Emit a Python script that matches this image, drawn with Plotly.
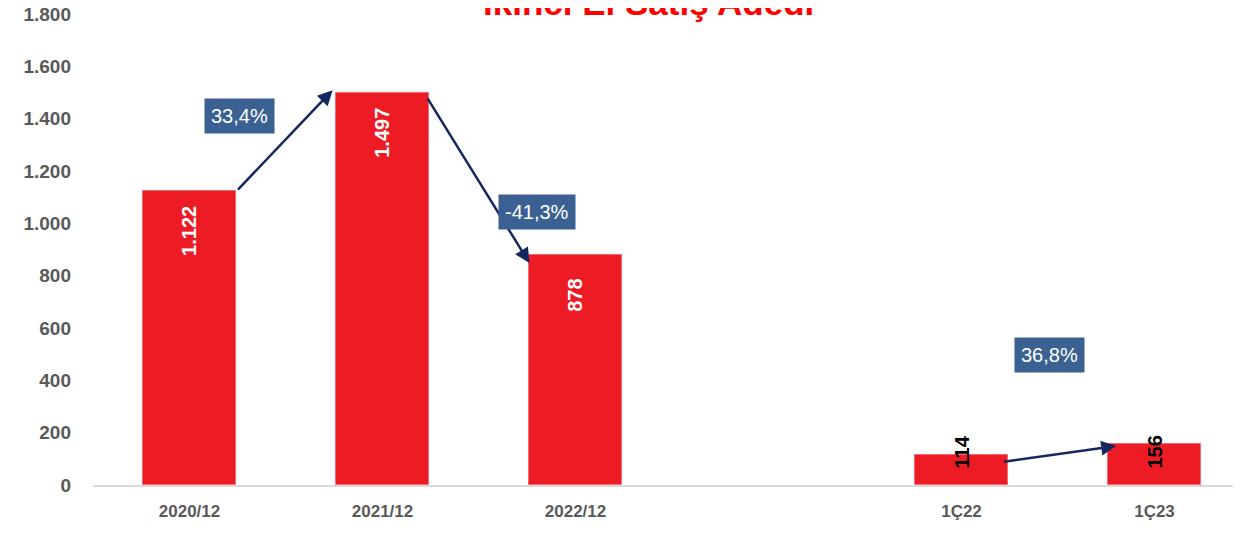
import plotly.graph_objects as go

# ---- data ----
categories = ["2020/12", "2021/12", "2022/12", "", "1Ç22", "1Ç23"]
sales = [1122, 1497, 878, None, 114, 156]
y_ticks = [0, 200, 400, 600, 800, 1000, 1200, 1400, 1600, 1800]
# pairs of bars compared by the percentage-change arrows
change_pairs = [(0, 1), (1, 2), (4, 5)]
title_text = "İkinci El Satış Adedi"

# ---- styling / placement (not data) ----
BAR_COLOR = "#ED1C24"
BOX_COLOR = "#3B6192"
ARROW_COLOR = "#14285F"
TICK_COLOR = "#595959"
FONT = "Liberation Sans, Arial"
BAR_W = 0.477
# arrow endpoint offsets (x offset from bar edge, y offset from bar value)
arrow_offsets = [((0.005, 1), (-0.02, 12)), ((-0.01, -14), (0.0, -30)), ((-0.027, -26), (0.04, -7))]
# percent box placement (x, y in data units)
box_pos = [(0.259, 1410), (1.803, 1043), (4.456, 497)]

# the page body adds an 8px offset; margins compensate for it
PAGE_OFF = 8
PLOT_L, PLOT_T, PLOT_B, PLOT_R = 93, 14, 485, 1241
W, H = 1241, 533


def fmt_thousands(v):
    return f"{v:,}".replace(",", ".")


x_idx = list(range(len(categories)))

fig = go.Figure()
fig.add_trace(go.Bar(
    x=x_idx, y=sales, width=BAR_W,
    marker=dict(color=BAR_COLOR, line=dict(color="#F26B72", width=1)),
    hoverinfo="skip",
))

annotations = []
# value labels
for i, v in enumerate(sales):
    if v is None:
        continue
    if v > 400:
        annotations.append(dict(
            x=i, y=v, xref="x", yref="y", text=fmt_thousands(v), showarrow=False,
            textangle=-90, yanchor="middle", xanchor="center", yshift=-40,
            font=dict(family=FONT, size=20, color="white", weight="bold"),
        ))
    else:
        annotations.append(dict(
            x=i, y=0, xref="x", yref="y", text=fmt_thousands(v), showarrow=False,
            textangle=-90, yanchor="middle", xanchor="center", yshift=33,
            font=dict(family=FONT, size=20, color="black", weight="bold"),
        ))

# arrows + percent boxes
for (a, b), (toff, hoff), (bx, by) in zip(change_pairs, arrow_offsets, box_pos):
    va, vb = sales[a], sales[b]
    tail_x = a + BAR_W / 2 + toff[0]
    tail_y = va + toff[1]
    head_x = b - BAR_W / 2 + hoff[0]
    head_y = vb + hoff[1]
    annotations.append(dict(
        x=head_x, y=head_y, ax=tail_x, ay=tail_y,
        xref="x", yref="y", axref="x", ayref="y",
        text="", showarrow=True, arrowhead=2, arrowsize=1.2,
        arrowwidth=2.5, arrowcolor=ARROW_COLOR,
    ))
    pct = round((vb / va - 1) * 100, 1)
    annotations.append(dict(
        x=bx, y=by, xref="x", yref="y", showarrow=False,
        text=f"{pct:.1f}%".replace(".", ","),
        bgcolor=BOX_COLOR, borderpad=6,
        font=dict(family=FONT, size=20, color="white"),
    ))

# title (partly cut off at the top)
annotations.append(dict(
    x=(648 - PLOT_L) / (PLOT_R - PLOT_L), xref="paper", y=1, yref="paper",
    text=title_text, showarrow=False,
    xanchor="center", yanchor="bottom", yshift=-10,
    font=dict(family=FONT, size=35, color="#FF0000", weight="bold"),
))

fig.update_layout(
    width=W, height=H,
    margin=dict(l=PLOT_L - PAGE_OFF, r=W - (PLOT_R - PAGE_OFF),
                t=PLOT_T - PAGE_OFF, b=H - (PLOT_B - PAGE_OFF), autoexpand=False),
    paper_bgcolor="white", plot_bgcolor="white",
    showlegend=False,
    separators=",.",
    annotations=annotations,
    bargap=0,
)
fig.update_xaxes(
    range=[-0.5, -0.5 + (PLOT_R - PLOT_L) / 193],
    tickmode="array", tickvals=x_idx, ticktext=categories,
    showline=True, linecolor="#D9D9D9", linewidth=2,
    showgrid=False, zeroline=False, ticks="", automargin=False,
    tickfont=dict(family=FONT, size=17, color=TICK_COLOR, weight="bold"),
    ticklabelstandoff=10, ticklabeloverflow="allow",
)
fig.update_yaxes(
    range=[0, 1800], tickmode="array", tickvals=y_ticks,
    ticktext=[fmt_thousands(t) for t in y_ticks],
    showline=False, showgrid=False, zeroline=False, ticks="", automargin=False,
    tickfont=dict(family=FONT, size=19, color=TICK_COLOR, weight="bold"),
    ticklabelstandoff=21, ticklabeloverflow="allow",
)

fig.write_html("out.html")
